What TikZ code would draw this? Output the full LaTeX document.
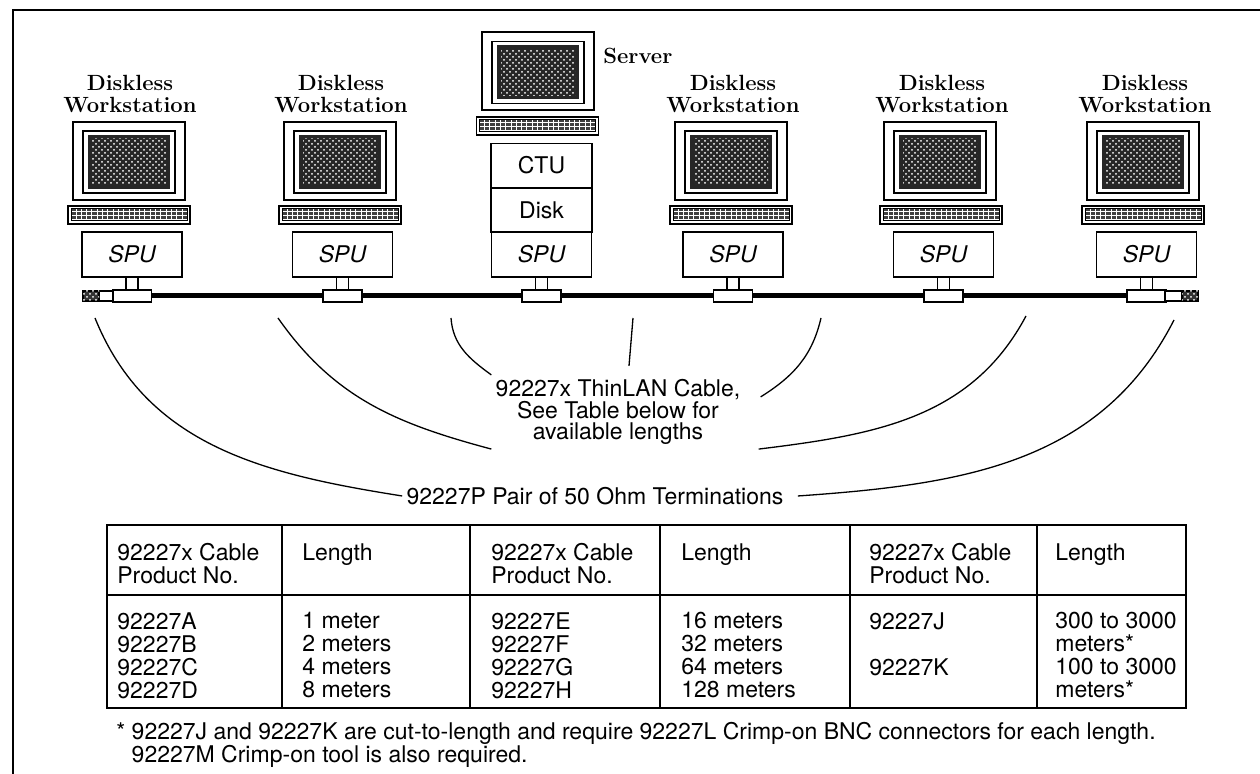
\documentclass[tikz,border=0pt]{standalone}
\usepackage{fontspec}
\setsansfont{TeX Gyre Heros}
\usepackage{tikz}
\usetikzlibrary{positioning,patterns}

\begin{document}
\begin{tikzpicture}[x=0.5pt,y=0.5pt,
    every node/.style={font=\sffamily\fontsize{11.5}{11.5}\selectfont},
    title/.style={font=\bfseries\fontsize{11}{11}\selectfont, align=center, inner sep=0pt},
    spu/.style={draw, line width=.8pt, fill=white, minimum width=50pt, minimum height=22.5pt,
        inner sep=0pt, font=\sffamily\itshape\fontsize{11.5}{11.5}\selectfont},
    unit/.style={draw, line width=.8pt, minimum width=50.5pt, minimum height=22pt, inner sep=0pt},
    tee/.style={draw, line width=.7pt, fill=white, minimum width=19.5pt, minimum height=6pt, inner sep=0pt},
    endcap/.style={draw, line width=.7pt, fill=white, minimum width=7pt, minimum height=5pt, inner sep=0pt},
    plug/.style={endcap, minimum width=8pt, fill=black!80,
        postaction={pattern=crosshatch dots, pattern color=white}},
    cable/.style={line width=2.5pt},
    leader/.style={line width=.65pt},
    cell/.style={anchor=north west, align=left, inner sep=0pt},
    monitor/.pic={
        \draw[line width=1pt, fill=white] (-56,-39) rectangle (56,39);
        \draw[line width=.6pt] (-46,-32) rectangle (46,30);
        \fill[black!85] (-41,-28) rectangle (41,26);
        \fill[pattern=crosshatch dots, pattern color=white] (-37,-24) rectangle (37,22);
    },
    keyboard/.pic={
        \draw[line width=.9pt, fill=white] (-61,-9) rectangle (61,9);
        \fill[black!75] (-58,-6) rectangle (58,6);
        \draw[white, line width=.45pt, xstep=5.3, ystep=4] (-58,-6) grid (58,6);
        \draw[line width=.5pt] (-58,-6) rectangle (58,6);
    }
]
    \useasboundingbox (0,0) rectangle (1260,774);
    \draw[line width=1.2pt] (13,0) -- (13,764) -- (1260,764);

    % stations
    \node[title] at (130,680) (lblA) {Diskless\\Workstation};
    \node[title] at (341,680) (lblB) {Diskless\\Workstation};
    \node[title, anchor=west] at (603,718) (lblS) {Server};
    \node[title] at (733,680) (lblC) {Diskless\\Workstation};
    \node[title] at (942,680) (lblD) {Diskless\\Workstation};
    \node[title] at (1145,680) (lblE) {Diskless\\Workstation};

    \pic at (129,613) {monitor};
    \pic at (340,613) {monitor};
    \pic at (538,702.5) {monitor};
    \pic at (731,613) {monitor};
    \pic at (940,613) {monitor};
    \pic at (1143,613) {monitor};

    \pic at (129,559) {keyboard};
    \pic at (340,559) {keyboard};
    \pic at (537.5,648) {keyboard};
    \pic at (731,559) {keyboard};
    \pic at (941,559) {keyboard};
    \pic at (1143,559) {keyboard};

    \node[spu] at (132,519.5) (spuA) {SPU};
    \node[spu] at (342.5,519.5) (spuB) {SPU};
    \node[unit] at (541.5,608.5) (ctu) {CTU};
    \node[unit] at (541.5,564) (disk) {Disk};
    \node[spu] at (541.5,519.5) (spuS) {SPU};
    \node[spu] at (733,519.5) (spuC) {SPU};
    \node[spu] at (943.5,519.5) (spuD) {SPU};
    \node[spu] at (1146.5,519.5) (spuE) {SPU};

    % thinlan cable with T connectors
    \node[tee] at (132,478) (tA) {};
    \node[tee] at (342.5,478) (tB) {};
    \node[tee] at (541.5,478) (tS) {};
    \node[tee] at (733,478) (tC) {};
    \node[tee] at (943.5,478) (tD) {};
    \node[tee] at (1146.5,478) (tE) {};
    \node[endcap] at (106,478) (capL) {};
    \node[plug] at (91,478) (plugL) {};
    \node[endcap, minimum width=8.5pt] at (1173.5,478) (capR) {};
    \node[plug] at (1190,478) (plugR) {};
    \draw[cable] (tA) -- (tB) -- (tS) -- (tC) -- (tD) -- (tE);

    \draw[line width=.7pt, fill=white] ([xshift=-3pt]spuA.south) rectangle ([xshift=3pt]tA.north);
    \draw[line width=.7pt, fill=white] ([xshift=-3pt]spuB.south) rectangle ([xshift=3pt]tB.north);
    \draw[line width=.7pt, fill=white] ([xshift=-3pt]spuS.south) rectangle ([xshift=3pt]tS.north);
    \draw[line width=.7pt, fill=white] ([xshift=-3pt]spuC.south) rectangle ([xshift=3pt]tC.north);
    \draw[line width=.7pt, fill=white] ([xshift=-3pt]spuD.south) rectangle ([xshift=3pt]tD.north);
    \draw[line width=.7pt, fill=white] ([xshift=-3pt]spuE.south) rectangle ([xshift=3pt]tE.north);

    % callouts
    \coordinate (pA) at (95,456);
    \coordinate (pB) at (278,456);
    \coordinate (pC) at (451,456);
    \coordinate (pD) at (633,456);
    \coordinate (pE) at (821,456);
    \coordinate (pF) at (1026,458);
    \coordinate (pG) at (1174,454);
    \node[align=center, inner sep=2pt, font=\sffamily\fontsize{11.5}{10.8}\selectfont] at (618,362) (lan)
        {92227x ThinLAN Cable,\\See Table below for\\available lengths};
    \node[inner sep=2pt] at (595,278) (term) {92227P Pair of 50 Ohm Terminations};
    \draw[leader] (pA) to[out=-68, in=171] (term.west);
    \draw[leader] (pB) to[out=-55, in=165] (lan.south west);
    \draw[leader] (pC) to[out=-86, in=144] (lan.north west);
    \draw[leader] (pD) -- ([shift={(5.5pt,4.5pt)}]lan.north);
    \draw[leader] (pE) to[out=-103, in=32] ([shift={(8pt,-11pt)}]lan.north east);
    \draw[leader] (pF) to[out=-118, in=7] ([xshift=7pt]lan.south east);
    \draw[leader] (pG) to[out=-117, in=4] ([xshift=5pt]term.east);

    % table of cable lengths
    \draw[line width=.8pt] (107,249) rectangle (1186,66);
    \draw[line width=.8pt] (107,179) -- (1186,179)
        (282,249) -- (282,66) (470,249) -- (470,66) (660,249) -- (660,66)
        (850,249) -- (850,66) (1037,249) -- (1037,66);
    \node[cell] at (117,231) (h1) {92227x Cable\\Product No.};
    \node[cell] at (302,231) (h2) {Length};
    \node[cell] at (491,231) (h3) {92227x Cable\\Product No.};
    \node[cell] at (681,231) (h4) {Length};
    \node[cell] at (869,231) (h5) {92227x Cable\\Product No.};
    \node[cell] at (1055,231) (h6) {Length};
    \node[cell] at (117,162) (b1) {92227A\\92227B\\92227C\\92227D};
    \node[cell] at (302,162) (b2) {1 meter\\2 meters\\4 meters\\8 meters};
    \node[cell] at (491,162) (b3) {92227E\\92227F\\92227G\\92227H};
    \node[cell] at (681,162) (b4) {16 meters\\32 meters\\64 meters\\128 meters};
    \node[cell] at (869,162) (b5) {92227J};
    \node[cell] at (869,116) (b6) {92227K};
    \node[cell] at (1055,162) (b7) {300 to 3000\\meters*\\100 to 3000\\meters*};
    \node[cell] at (116,52) (note) {* 92227J and 92227K are cut-to-length and require 92227L Crimp-on BNC connectors for each length.\\\phantom{* }92227M Crimp-on tool is also required.};
\end{tikzpicture}
\end{document}
